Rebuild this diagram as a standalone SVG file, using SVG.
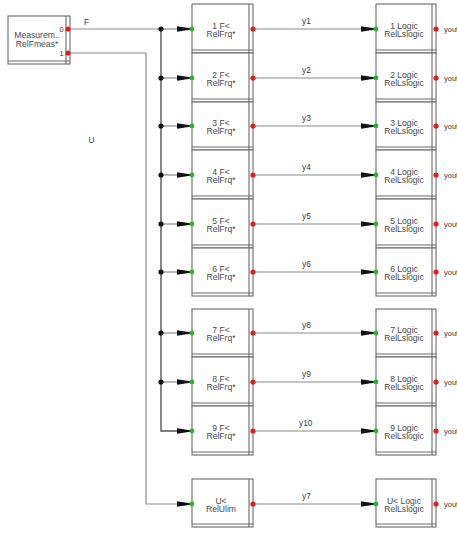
<svg xmlns="http://www.w3.org/2000/svg" width="457" height="534" viewBox="0 0 457 534">
<defs>
<style>
.box{fill:#fff;stroke:#6a6a6a;stroke-width:1.1}
.inner{stroke:#6a6a6a;stroke-width:1.1;fill:none}
.wire{stroke:#8a8a8a;stroke-width:1.2;fill:none}
.bus{stroke:#555;stroke-width:1.4;fill:none}
.t{font-family:"Liberation Sans",Arial,sans-serif;font-size:8.6px;fill:#4a4a4a;text-anchor:middle}
.lbl{font-family:"Liberation Sans",Arial,sans-serif;font-size:8.3px;fill:#3a3a3a}
.yo{font-family:"Liberation Sans",Arial,sans-serif;font-size:7.5px;fill:#3a3a3a}
.pin{fill:#e02020}
.pout{fill:#30b030}
.jd{fill:#111}
</style>
<marker id="ah" markerUnits="userSpaceOnUse" markerWidth="14" markerHeight="8" refX="13" refY="4" orient="auto">
<path d="M0,1.2 L13,3.2 L13,4.8 L0,6.8 Z" fill="#111"/>
</marker>
</defs>
<rect width="457" height="534" fill="#fff"/>

<g id="connectors">
<path class="wire" d="M70,29 H161"/>
<path class="bus" d="M161,29 V431 H178"/>
<path class="wire" d="M70,53 H146 V504 H190" marker-end="url(#ah)"/>
<path class="wire" d="M161,29 H190" marker-end="url(#ah)"/>
<path class="wire" d="M161,78 H190" marker-end="url(#ah)"/>
<path class="wire" d="M161,126 H190" marker-end="url(#ah)"/>
<path class="wire" d="M161,175 H190" marker-end="url(#ah)"/>
<path class="wire" d="M161,224 H190" marker-end="url(#ah)"/>
<path class="wire" d="M161,272 H190" marker-end="url(#ah)"/>
<path class="wire" d="M161,333 H190" marker-end="url(#ah)"/>
<path class="wire" d="M161,382 H190" marker-end="url(#ah)"/>
<path class="wire" d="M176,431 H190" marker-end="url(#ah)"/>
<path class="wire" d="M253,29 H374" marker-end="url(#ah)"/>
<path class="wire" d="M253,78 H374" marker-end="url(#ah)"/>
<path class="wire" d="M253,126 H374" marker-end="url(#ah)"/>
<path class="wire" d="M253,175 H374" marker-end="url(#ah)"/>
<path class="wire" d="M253,224 H374" marker-end="url(#ah)"/>
<path class="wire" d="M253,272 H374" marker-end="url(#ah)"/>
<path class="wire" d="M253,333 H374" marker-end="url(#ah)"/>
<path class="wire" d="M253,382 H374" marker-end="url(#ah)"/>
<path class="wire" d="M253,431 H374" marker-end="url(#ah)"/>
<path class="wire" d="M253,504 H374" marker-end="url(#ah)"/>
<circle class="jd" cx="161" cy="29" r="2.6"/>
<circle class="jd" cx="161" cy="78" r="2.6"/>
<circle class="jd" cx="161" cy="126" r="2.6"/>
<circle class="jd" cx="161" cy="175" r="2.6"/>
<circle class="jd" cx="161" cy="224" r="2.6"/>
<circle class="jd" cx="161" cy="272" r="2.6"/>
<circle class="jd" cx="161" cy="333" r="2.6"/>
<circle class="jd" cx="161" cy="382" r="2.6"/>
<text class="lbl" x="84" y="25">F</text>
<text class="lbl" x="88.5" y="142.5">U</text>
<text class="lbl" x="302" y="24">y1</text>
<text class="lbl" x="302" y="73">y2</text>
<text class="lbl" x="302" y="121">y3</text>
<text class="lbl" x="302" y="170">y4</text>
<text class="lbl" x="302" y="219">y5</text>
<text class="lbl" x="302" y="267">y6</text>
<text class="lbl" x="302" y="328">y8</text>
<text class="lbl" x="302" y="377">y9</text>
<text class="lbl" x="299" y="426">y10</text>
<text class="lbl" x="302" y="499">y7</text>
</g>

<g id="meas">
<rect class="box" x="8" y="16" width="62" height="48"/>
<path class="inner" d="M66,16 V64 M8,61 H70"/>
<text class="t" x="37" y="37.5">Measurem..</text>
<text class="t" x="37" y="47.3">RelFmeas*</text>
<text class="yo" x="59.5" y="31.5" font-size="6.5">0</text>
<text class="yo" x="59.5" y="55.5" font-size="6.5">1</text>
<circle class="pin" cx="68" cy="29" r="2.6"/>
<circle class="pin" cx="68" cy="53" r="2.6"/>
</g>

<g id="f1"><rect class="box" x="192" y="4" width="61" height="49"/><path class="inner" d="M249,4 V53 M192,50 H253"/><text class="t" x="221" y="28.5">1 F&lt;</text><text class="t" x="221" y="37">RelFrq*</text><circle class="pout" cx="192" cy="29" r="2.4"/><circle class="pin" cx="253" cy="29" r="2.6"/></g>
<g id="f2"><rect class="box" x="192" y="53" width="61" height="49"/><path class="inner" d="M249,53 V102 M192,99 H253"/><text class="t" x="221" y="77.5">2 F&lt;</text><text class="t" x="221" y="86">RelFrq*</text><circle class="pout" cx="192" cy="78" r="2.4"/><circle class="pin" cx="253" cy="78" r="2.6"/></g>
<g id="f3"><rect class="box" x="192" y="102" width="61" height="48"/><path class="inner" d="M249,102 V150 M192,147 H253"/><text class="t" x="221" y="125.5">3 F&lt;</text><text class="t" x="221" y="134">RelFrq*</text><circle class="pout" cx="192" cy="126" r="2.4"/><circle class="pin" cx="253" cy="126" r="2.6"/></g>
<g id="f4"><rect class="box" x="192" y="150" width="61" height="49"/><path class="inner" d="M249,150 V199 M192,196 H253"/><text class="t" x="221" y="174.5">4 F&lt;</text><text class="t" x="221" y="183">RelFrq*</text><circle class="pout" cx="192" cy="175" r="2.4"/><circle class="pin" cx="253" cy="175" r="2.6"/></g>
<g id="f5"><rect class="box" x="192" y="199" width="61" height="49"/><path class="inner" d="M249,199 V248 M192,245 H253"/><text class="t" x="221" y="223.5">5 F&lt;</text><text class="t" x="221" y="232">RelFrq*</text><circle class="pout" cx="192" cy="224" r="2.4"/><circle class="pin" cx="253" cy="224" r="2.6"/></g>
<g id="f6"><rect class="box" x="192" y="248" width="61" height="48"/><path class="inner" d="M249,248 V296 M192,293 H253"/><text class="t" x="221" y="271.5">6 F&lt;</text><text class="t" x="221" y="280">RelFrq*</text><circle class="pout" cx="192" cy="272" r="2.4"/><circle class="pin" cx="253" cy="272" r="2.6"/></g>
<g id="f7"><rect class="box" x="192" y="309" width="61" height="48"/><path class="inner" d="M249,309 V357 M192,354 H253"/><text class="t" x="221" y="332.5">7 F&lt;</text><text class="t" x="221" y="341">RelFrq*</text><circle class="pout" cx="192" cy="333" r="2.4"/><circle class="pin" cx="253" cy="333" r="2.6"/></g>
<g id="f8"><rect class="box" x="192" y="357" width="61" height="49"/><path class="inner" d="M249,357 V406 M192,403 H253"/><text class="t" x="221" y="381.5">8 F&lt;</text><text class="t" x="221" y="390">RelFrq*</text><circle class="pout" cx="192" cy="382" r="2.4"/><circle class="pin" cx="253" cy="382" r="2.6"/></g>
<g id="f9"><rect class="box" x="192" y="406" width="61" height="49"/><path class="inner" d="M249,406 V455 M192,452 H253"/><text class="t" x="221" y="430.5">9 F&lt;</text><text class="t" x="221" y="439">RelFrq*</text><circle class="pout" cx="192" cy="431" r="2.4"/><circle class="pin" cx="253" cy="431" r="2.6"/></g>
<g id="fu"><rect class="box" x="192" y="479" width="61" height="48"/><path class="inner" d="M249,479 V527 M192,524 H253"/><text class="t" x="221" y="503.5">U&lt;</text><text class="t" x="221" y="512">RelUlim</text><circle class="pout" cx="192" cy="504" r="2.4"/><circle class="pin" cx="253" cy="504" r="2.6"/></g>

<g id="l1"><rect class="box" x="376" y="4" width="60" height="49"/><path class="inner" d="M432,4 V53 M376,50 H436"/><text class="t" x="404" y="28.5">1 Logic</text><text class="t" x="404" y="37">RelLslogic</text><circle class="pout" cx="376" cy="29" r="2.4"/><circle class="pin" cx="436" cy="29" r="2.6"/><text class="yo" x="444" y="31.5">yout</text></g>
<g id="l2"><rect class="box" x="376" y="53" width="60" height="49"/><path class="inner" d="M432,53 V102 M376,99 H436"/><text class="t" x="404" y="77.5">2 Logic</text><text class="t" x="404" y="86">RelLslogic</text><circle class="pout" cx="376" cy="78" r="2.4"/><circle class="pin" cx="436" cy="78" r="2.6"/><text class="yo" x="444" y="80.5">yout</text></g>
<g id="l3"><rect class="box" x="376" y="102" width="60" height="48"/><path class="inner" d="M432,102 V150 M376,147 H436"/><text class="t" x="404" y="125.5">3 Logic</text><text class="t" x="404" y="134">RelLslogic</text><circle class="pout" cx="376" cy="126" r="2.4"/><circle class="pin" cx="436" cy="126" r="2.6"/><text class="yo" x="444" y="128.5">yout</text></g>
<g id="l4"><rect class="box" x="376" y="150" width="60" height="49"/><path class="inner" d="M432,150 V199 M376,196 H436"/><text class="t" x="404" y="174.5">4 Logic</text><text class="t" x="404" y="183">RelLslogic</text><circle class="pout" cx="376" cy="175" r="2.4"/><circle class="pin" cx="436" cy="175" r="2.6"/><text class="yo" x="444" y="177.5">yout</text></g>
<g id="l5"><rect class="box" x="376" y="199" width="60" height="49"/><path class="inner" d="M432,199 V248 M376,245 H436"/><text class="t" x="404" y="223.5">5 Logic</text><text class="t" x="404" y="232">RelLslogic</text><circle class="pout" cx="376" cy="224" r="2.4"/><circle class="pin" cx="436" cy="224" r="2.6"/><text class="yo" x="444" y="226.5">yout</text></g>
<g id="l6"><rect class="box" x="376" y="248" width="60" height="48"/><path class="inner" d="M432,248 V296 M376,293 H436"/><text class="t" x="404" y="271.5">6 Logic</text><text class="t" x="404" y="280">RelLslogic</text><circle class="pout" cx="376" cy="272" r="2.4"/><circle class="pin" cx="436" cy="272" r="2.6"/><text class="yo" x="444" y="274.5">yout</text></g>
<g id="l7"><rect class="box" x="376" y="309" width="60" height="48"/><path class="inner" d="M432,309 V357 M376,354 H436"/><text class="t" x="404" y="332.5">7 Logic</text><text class="t" x="404" y="341">RelLslogic</text><circle class="pout" cx="376" cy="333" r="2.4"/><circle class="pin" cx="436" cy="333" r="2.6"/><text class="yo" x="444" y="335.5">yout</text></g>
<g id="l8"><rect class="box" x="376" y="357" width="60" height="49"/><path class="inner" d="M432,357 V406 M376,403 H436"/><text class="t" x="404" y="381.5">8 Logic</text><text class="t" x="404" y="390">RelLslogic</text><circle class="pout" cx="376" cy="382" r="2.4"/><circle class="pin" cx="436" cy="382" r="2.6"/><text class="yo" x="444" y="384.5">yout</text></g>
<g id="l9"><rect class="box" x="376" y="406" width="60" height="49"/><path class="inner" d="M432,406 V455 M376,452 H436"/><text class="t" x="404" y="430.5">9 Logic</text><text class="t" x="404" y="439">RelLslogic</text><circle class="pout" cx="376" cy="431" r="2.4"/><circle class="pin" cx="436" cy="431" r="2.6"/><text class="yo" x="444" y="433.5">yout</text></g>
<g id="lu"><rect class="box" x="376" y="479" width="60" height="48"/><path class="inner" d="M432,479 V527 M376,524 H436"/><text class="t" x="404" y="503.5">U&lt; Logic</text><text class="t" x="404" y="512">RelLslogic</text><circle class="pout" cx="376" cy="504" r="2.4"/><circle class="pin" cx="436" cy="504" r="2.6"/><text class="yo" x="444" y="506.5">yout</text></g>
</svg>
